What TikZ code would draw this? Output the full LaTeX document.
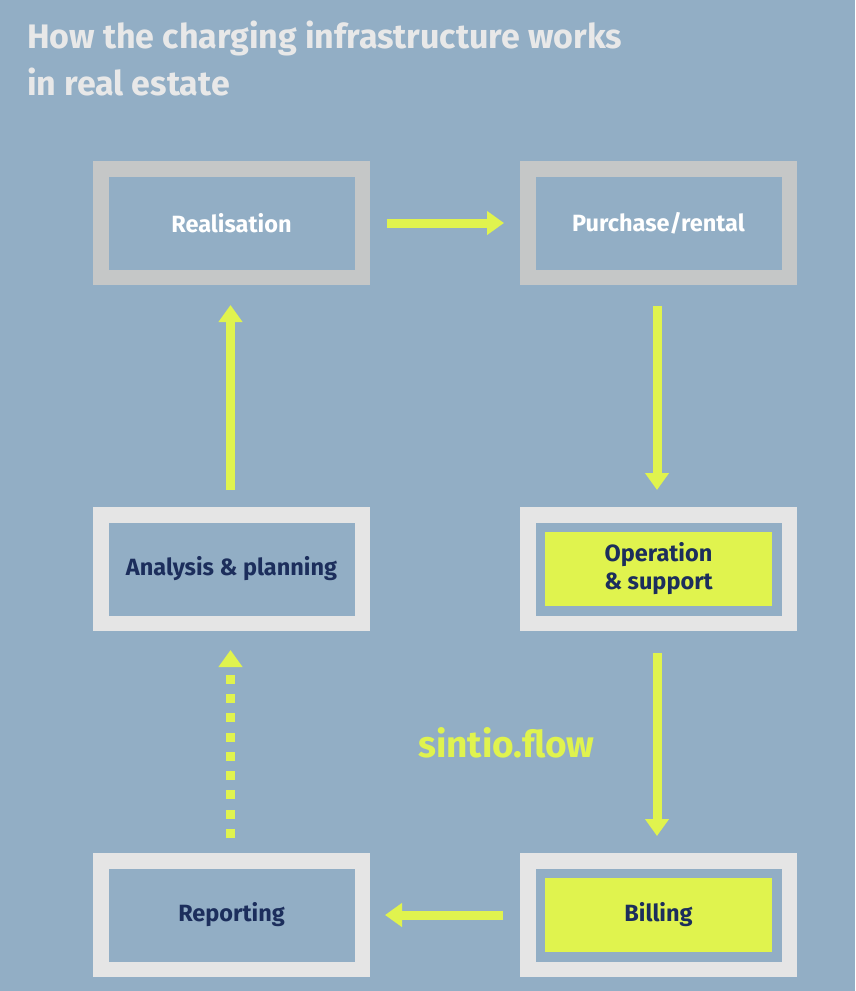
\documentclass[tikz,border=0pt]{standalone}
\usepackage{fontspec}
\setmainfont{Fira Sans}
\usetikzlibrary{arrows.meta}
\definecolor{bgc}{HTML}{92AEC5}
\definecolor{greyb}{HTML}{C5C7C7}
\definecolor{lightb}{HTML}{E5E5E5}
\definecolor{lime}{HTML}{E0F34E}
\definecolor{navy}{HTML}{1C2E5C}
\definecolor{titlec}{HTML}{E8E8E8}
\tikzset{
  stagebox/.style={rectangle, line width=15.5pt, fill=bgc, minimum width=261.5pt, minimum height=108.5pt, inner sep=0pt, font=\bfseries\fontsize{23.5}{28}\selectfont, align=center},
  topbox/.style={stagebox, draw=greyb, text=white},
  lowbox/.style={stagebox, draw=lightb, text=navy},
  limebox/.style={rectangle, fill=lime, minimum width=227pt, minimum height=74pt, inner sep=0pt, text=navy, font=\bfseries\fontsize{23.5}{28}\selectfont, align=center},
  flow/.style={draw=lime, line width=9pt, -{Triangle[width=23pt,length=17pt]}},
  titletext/.style={text=titlec, font=\bfseries\fontsize{34}{40}\selectfont, anchor=base west, inner sep=0pt}
}
\begin{document}
\begin{tikzpicture}[x=1pt,y=-1pt]
\fill[bgc] (0,0) rectangle (855,991);
\useasboundingbox (0,0) rectangle (855,991);
\node[titletext] (t1) at (27,48) {How the charging infrastructure works};
\node[titletext] (t2) at (27,95) {in real estate};
\node[topbox] (real) at (231.5,223) {Realisation};
\node[topbox] (purch) at (658.5,223) {Purchase/rental};
\node[lowbox] (anal) at (231.5,569) {Analysis \& planning};
\node[lowbox] (oper) at (658.5,569) {};
\node[limebox] (operin) at (658.5,569) {Operation\\\& support};
\node[lowbox] (rep) at (231.5,915) {Reporting};
\node[lowbox] (bill) at (658.5,915) {};
\node[limebox] (billin) at (658.5,915) {Billing};
\node[text=lime, font=\bfseries\fontsize{37}{42}\selectfont, anchor=base west, inner sep=0pt] (sintio) at (418,757) {sintio.flow};
\draw[flow, shorten <=17pt, shorten >=16pt] (real.east) -- (purch.west);
\draw[flow, shorten <=21pt, shorten >=17pt] ([xshift=-1.5pt]purch.south) -- ([xshift=-1.5pt]oper.north);
\draw[flow, shorten <=22pt, shorten >=17pt] ([xshift=-1.5pt]oper.south) -- ([xshift=-1.5pt]bill.north);
\draw[flow, shorten <=17pt, shorten >=15pt] (bill.west) -- (rep.east);
\draw[flow, shorten <=15pt, shorten >=19pt, dash pattern=on 9pt off 10.3pt] ([xshift=-1pt]rep.north) -- ([xshift=-1pt]anal.south);
\draw[flow, shorten <=17pt, shorten >=20pt] ([xshift=-1pt]anal.north) -- ([xshift=-1pt]real.south);
\end{tikzpicture}
\end{document}
